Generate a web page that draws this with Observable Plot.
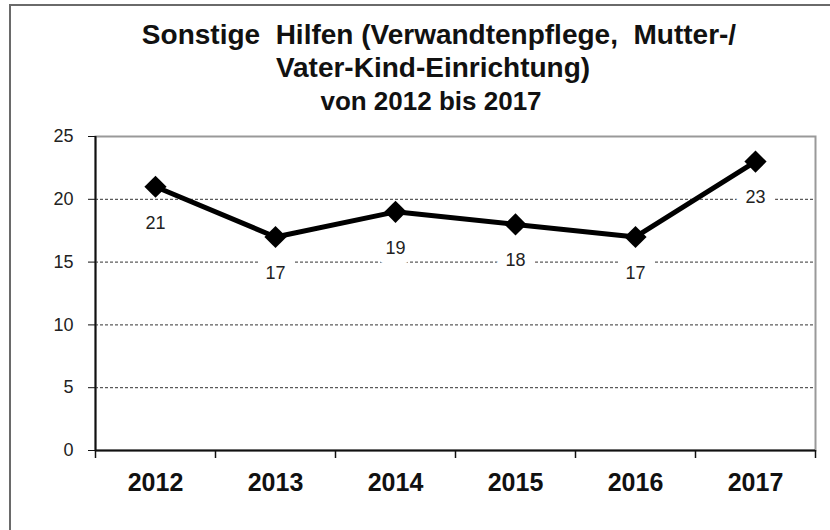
<!DOCTYPE html>
<html><head><meta charset="utf-8">
<script src="https://cdn.jsdelivr.net/npm/d3@7"></script>
<script src="https://cdn.jsdelivr.net/npm/@observablehq/plot@0.6"></script>
<style>
html,body{margin:0;padding:0;background:#fff;overflow:hidden;}
#wrap{position:relative;width:830px;height:530px;overflow:hidden;font-family:"Liberation Sans",Arial,sans-serif;}
#border{position:absolute;left:9px;top:4px;width:900px;height:700px;border:2px solid #6a6a6a;}
.t{position:absolute;width:800px;text-align:center;font-weight:bold;color:#111;white-space:pre;line-height:1;}
#chart{position:absolute;left:0;top:120px;}
</style></head><body>
<div id="wrap"><div id="border"></div><div id="chart"></div></div>
<script>
const years = [2012, 2013, 2014, 2015, 2016, 2017];
const values = [21, 17, 19, 18, 17, 23];
const yTicks = [0, 5, 10, 15, 20, 25];
const gridValues = [5, 10, 15, 20];
const titleLines = ["Sonstige  Hilfen (Verwandtenpflege,  Mutter-/", "Vater-Kind-Einrichtung)", "von 2012 bis 2017"];
const titleSizes = [28, 28, 26];
const titleCenters = [439, 433, 431];
const titleTops = [21, 54, 88];

const wrap = document.getElementById("wrap");
titleLines.forEach((line, i) => {
  const d = document.createElement("div");
  d.className = "t";
  d.textContent = line;
  d.style.fontSize = titleSizes[i] + "px";
  d.style.left = (titleCenters[i] - 400) + "px";
  d.style.top = titleTops[i] + "px";
  wrap.appendChild(d);
});

const data = years.map((year, i) => ({year, value: values[i]}));
const xDomain = [years[0] - 0.5, years[years.length - 1] + 0.5];
const edges = [...years.map(y => y - 0.5), years[years.length - 1] + 0.5];

const chart = Plot.plot({
  width: 830, height: 410,
  marginLeft: 95, marginRight: 15, marginTop: 16, marginBottom: 80,
  style: {fontFamily: '"Liberation Sans", Arial, sans-serif', background: "transparent", color: "#111", overflow: "visible"},
  x: {type: "linear", domain: xDomain, axis: null, label: null},
  y: {domain: [0, 25], axis: null, label: null},
  marks: [
    Plot.ruleY(gridValues, {stroke: "#333", strokeDasharray: "3,2", strokeWidth: 1}),
    Plot.frame({stroke: "#999", strokeWidth: 2}),
    Plot.text(data, {x: "year", y: "value", text: d => String(d.value), dy: 36, fontSize: 18, fill: "#222", stroke: "white", strokeWidth: 20, paintOrder: "stroke"}),
    Plot.ruleY([0], {stroke: "#111", strokeWidth: 2}),
    Plot.ruleX([xDomain[0]], {stroke: "#111", strokeWidth: 2}),
    Plot.axisY({ticks: yTicks, tickSize: 7, tickPadding: 15, fontSize: 18, tickFormat: d => String(d), stroke: "#111", fill: "#222", label: null}),
    Plot.axisX({ticks: edges, tickSize: 8, tickFormat: () => "", stroke: "#111", strokeWidth: 1.5, label: null}),
    Plot.axisX({ticks: years, tickSize: 0, tickPadding: 23, fontSize: 25, fontWeight: "bold", tickFormat: d => String(d), fill: "#111", label: null}),
    Plot.line(data, {x: "year", y: "value", stroke: "#000", strokeWidth: 5}),
    Plot.dot(data, {x: "year", y: "value", symbol: "diamond2", r: 10, fill: "#000", stroke: "none"})
  ]
});
document.getElementById("chart").appendChild(chart);
</script>
</body></html>
